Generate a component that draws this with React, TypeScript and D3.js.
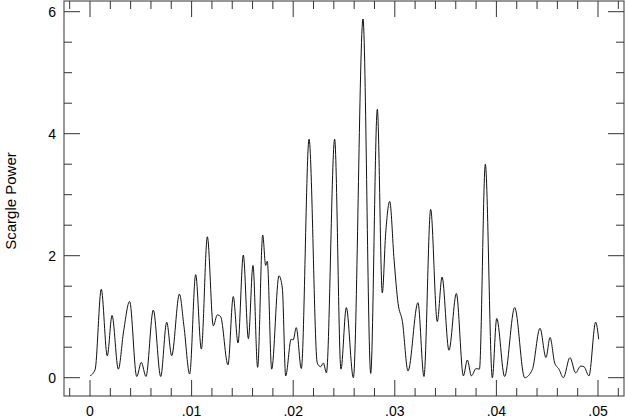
import React from "react";
import * as d3 from "d3";

const freq = [
  0.0, 0.0005, 0.00111, 0.0017, 0.00217, 0.00279, 0.0033, 0.0039, 0.0046, 0.00505, 0.00551,
  0.00623, 0.00696, 0.00755, 0.00804, 0.0088, 0.00925, 0.00981, 0.0104, 0.01096, 0.01155,
  0.01214, 0.01253, 0.01286, 0.01358, 0.0141, 0.01457, 0.01509, 0.01559, 0.01604, 0.0165,
  0.017, 0.01729, 0.01745, 0.01788, 0.0186, 0.01893, 0.01926, 0.0198, 0.0200, 0.0203,
  0.0208, 0.02156, 0.02237, 0.0227, 0.02297, 0.02327, 0.02408, 0.0247, 0.02523, 0.02592,
  0.02687, 0.02763, 0.02828, 0.02877, 0.0291, 0.0295, 0.02993, 0.03032, 0.03075, 0.0313,
  0.03228, 0.03287, 0.03353, 0.03418, 0.03465, 0.03533, 0.03606, 0.03675, 0.03714, 0.03754,
  0.038, 0.03833, 0.03891, 0.0396, 0.04003, 0.04081, 0.0418, 0.04278, 0.04353, 0.04429,
  0.04488, 0.04528, 0.04574, 0.04616, 0.04659, 0.04724, 0.0478, 0.04829, 0.04862, 0.04911,
  0.04977, 0.05007,
];

const power = [
  0.03, 0.13, 1.45, 0.36, 1.02, 0.14, 0.75, 1.25, 0.02, 0.25, 0.02,
  1.11, 0.02, 0.91, 0.36, 1.37, 0.84, 0.06, 1.69, 0.47, 2.31,
  0.85, 1.03, 1.0, 0.21, 1.33, 0.57, 2.01, 0.64, 1.84, 0.17,
  2.34, 1.84, 1.91, 0.14, 1.67, 1.47, 0.03, 0.63, 0.62, 0.82,
  0.15, 3.91, 0.24, 0.18, 0.24, 0.08, 3.91, 0.14, 1.15, 0.0,
  5.88, 0.07, 4.4, 1.39, 2.36, 2.89, 1.93, 1.22, 0.92, 0.11,
  1.23, 0.02, 2.76, 0.92, 1.65, 0.45, 1.38, 0.03, 0.29, 0.03,
  0.15, 0.14, 3.5, 0.0, 0.97, 0.02, 1.15, 0.0, 0.13, 0.81,
  0.33, 0.66, 0.24, 0.14, 0.0, 0.33, 0.08, 0.19, 0.18, 0.03,
  0.91, 0.63,
];

const xMajorTicks = [0, 0.01, 0.02, 0.03, 0.04, 0.05];
const xTickLabels = ["0", ".01", ".02", ".03", ".04", ".05"];
const yMajorTicks = [0, 2, 4, 6];
const yTickLabels = ["0", "2", "4", "6"];
const yAxisTitle = "Scargle Power";

const W = 625;
const H = 418;
const frame = { left: 64, right: 624, top: 1, bottom: 396 };

export default function App() {
  const x = d3.scaleLinear().domain([0, 0.05]).range([90, 598]);
  const y = d3.scaleLinear().domain([0, 6]).range([377.7, 11.7]);

  const xMinor = d3.range(-0.002, 0.0525, 0.002).filter(
    (v) => x(v) > frame.left + 1 && x(v) < frame.right - 1
  );
  const yMinor = d3.range(0, 6.01, 0.5).filter((v) => y(v) > frame.top + 1 && y(v) < frame.bottom - 1);

  const pts: [number, number][] = freq.map((f, i) => [f, power[i]]);
  const line = d3
    .line<[number, number]>()
    .x((d) => x(d[0]))
    .y((d) => y(d[1]))
    .curve(d3.curveMonotoneX);

  const tickColor = "#333";
  const font = "'Liberation Sans', Arial, Helvetica, sans-serif";

  return (
    <svg
      width={W}
      height={H}
      style={{ position: "absolute", left: 0, top: 0, background: "#fff" }}
    >
      <rect
        x={frame.left}
        y={frame.top}
        width={frame.right - frame.left}
        height={frame.bottom - frame.top}
        fill="none"
        stroke="#555"
        strokeWidth={1.2}
      />
      {xMinor.map((v, i) => {
        const isMajor = xMajorTicks.some((m) => Math.abs(m - v) < 1e-6);
        const len = isMajor ? 16 : 8;
        return (
          <g key={"xt" + i} stroke={tickColor} strokeWidth={1}>
            <line x1={x(v)} x2={x(v)} y1={frame.bottom} y2={frame.bottom - len} />
            <line x1={x(v)} x2={x(v)} y1={frame.top} y2={frame.top + len} />
          </g>
        );
      })}
      {yMinor.map((v, i) => {
        const isMajor = yMajorTicks.some((m) => Math.abs(m - v) < 1e-6);
        const len = isMajor ? 16 : 8;
        return (
          <g key={"yt" + i} stroke={tickColor} strokeWidth={1}>
            <line x1={frame.left} x2={frame.left + len} y1={y(v)} y2={y(v)} />
            <line x1={frame.right} x2={frame.right - len} y1={y(v)} y2={y(v)} />
          </g>
        );
      })}
      {xMajorTicks.map((v, i) => (
        <text
          key={"xl" + i}
          x={x(v)}
          y={416}
          textAnchor="middle"
          fontFamily={font}
          fontSize={14}
          fill="#000"
        >
          {xTickLabels[i]}
        </text>
      ))}
      {yMajorTicks.map((v, i) => (
        <text
          key={"yl" + i}
          x={56}
          y={y(v)}
          dy="0.36em"
          textAnchor="end"
          fontFamily={font}
          fontSize={14}
          fill="#000"
        >
          {yTickLabels[i]}
        </text>
      ))}
      <text
        transform={`translate(16, 201) rotate(-90)`}
        textAnchor="middle"
        fontFamily={font}
        fontSize={15}
        fill="#000"
      >
        {yAxisTitle}
      </text>
      <path d={line(pts) || ""} fill="none" stroke="#111" strokeWidth={1} />
    </svg>
  );
}
